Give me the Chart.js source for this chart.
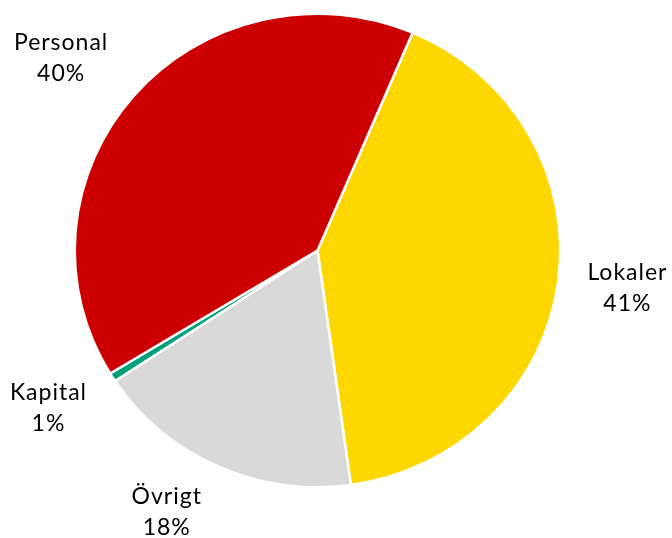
<!DOCTYPE html>
<html>
<head>
<meta charset="utf-8">
<style>
  html, body { margin: 0; padding: 0; background: #ffffff; }
  #wrap { width: 672px; height: 538px; position: relative; }
</style>
<script src="https://cdn.jsdelivr.net/npm/chart.js@4"></script>
</head>
<body>
<div id="wrap"><canvas id="c" width="672" height="538"></canvas></div>
<script>
// ---- data ----
const categories = ["Lokaler", "Övrigt", "Kapital", "Personal"];
const shares = [41.4, 17.9, 0.6, 40.1];
const sliceColors = ["#FFD700", "#D9D9D9", "#00A07A", "#CC0000"];

// ---- style (label nudges in px, vertical squash of the pie) ----
const labelNudges = [[0, -3], [-22, -17], [-5, -6], [-20, 7]];
const pieSquashY = 0.975;
const labelFont = "23px Lato, 'DejaVu Sans', sans-serif";

const squashPlugin = {
  id: 'squash',
  beforeDatasetsDraw(chart) {
    const arc = chart.getDatasetMeta(0).data[0];
    const ctx = chart.ctx;
    ctx.save();
    ctx.translate(arc.x, arc.y);
    ctx.scale(1, pieSquashY);
    ctx.translate(-arc.x, -arc.y);
  },
  afterDatasetsDraw(chart) {
    chart.ctx.restore();
  }
};

const labelPlugin = {
  id: 'outLabels',
  afterDraw(chart) {
    const ctx = chart.ctx;
    const meta = chart.getDatasetMeta(0);
    const vals = chart.data.datasets[0].data;
    const total = vals.reduce((a, b) => a + b, 0);
    ctx.save();
    ctx.font = labelFont;
    try { ctx.letterSpacing = "1px"; } catch (e) {}
    ctx.fillStyle = "#000000";
    ctx.textAlign = "center";
    ctx.textBaseline = "middle";
    meta.data.forEach((arc, i) => {
      const p = arc.getProps(['x', 'y', 'startAngle', 'endAngle', 'outerRadius'], true);
      const mid = (p.startAngle + p.endAngle) / 2;
      const R = p.outerRadius * 1.288;
      const cx = p.x + Math.cos(mid) * R + labelNudges[i][0];
      const cy = p.y + Math.sin(mid) * R * pieSquashY + labelNudges[i][1];
      const pct = Math.round(vals[i] / total * 100) + "%";
      ctx.fillText(chart.data.labels[i], cx, cy - 15);
      ctx.fillText(pct, cx, cy + 16);
    });
    ctx.restore();
  }
};

new Chart(document.getElementById('c'), {
  type: 'pie',
  data: {
    labels: categories,
    datasets: [{
      data: shares,
      backgroundColor: sliceColors,
      borderColor: "#ffffff",
      borderWidth: 2.5
    }]
  },
  options: {
    responsive: false,
    animation: false,
    rotation: 23.06,
    layout: { padding: { left: 73.5, right: 110.5, top: 6.5, bottom: 43.5 } },
    plugins: {
      legend: { display: false },
      tooltip: { enabled: false }
    }
  },
  plugins: [squashPlugin, labelPlugin]
});
</script>
</body>
</html>
